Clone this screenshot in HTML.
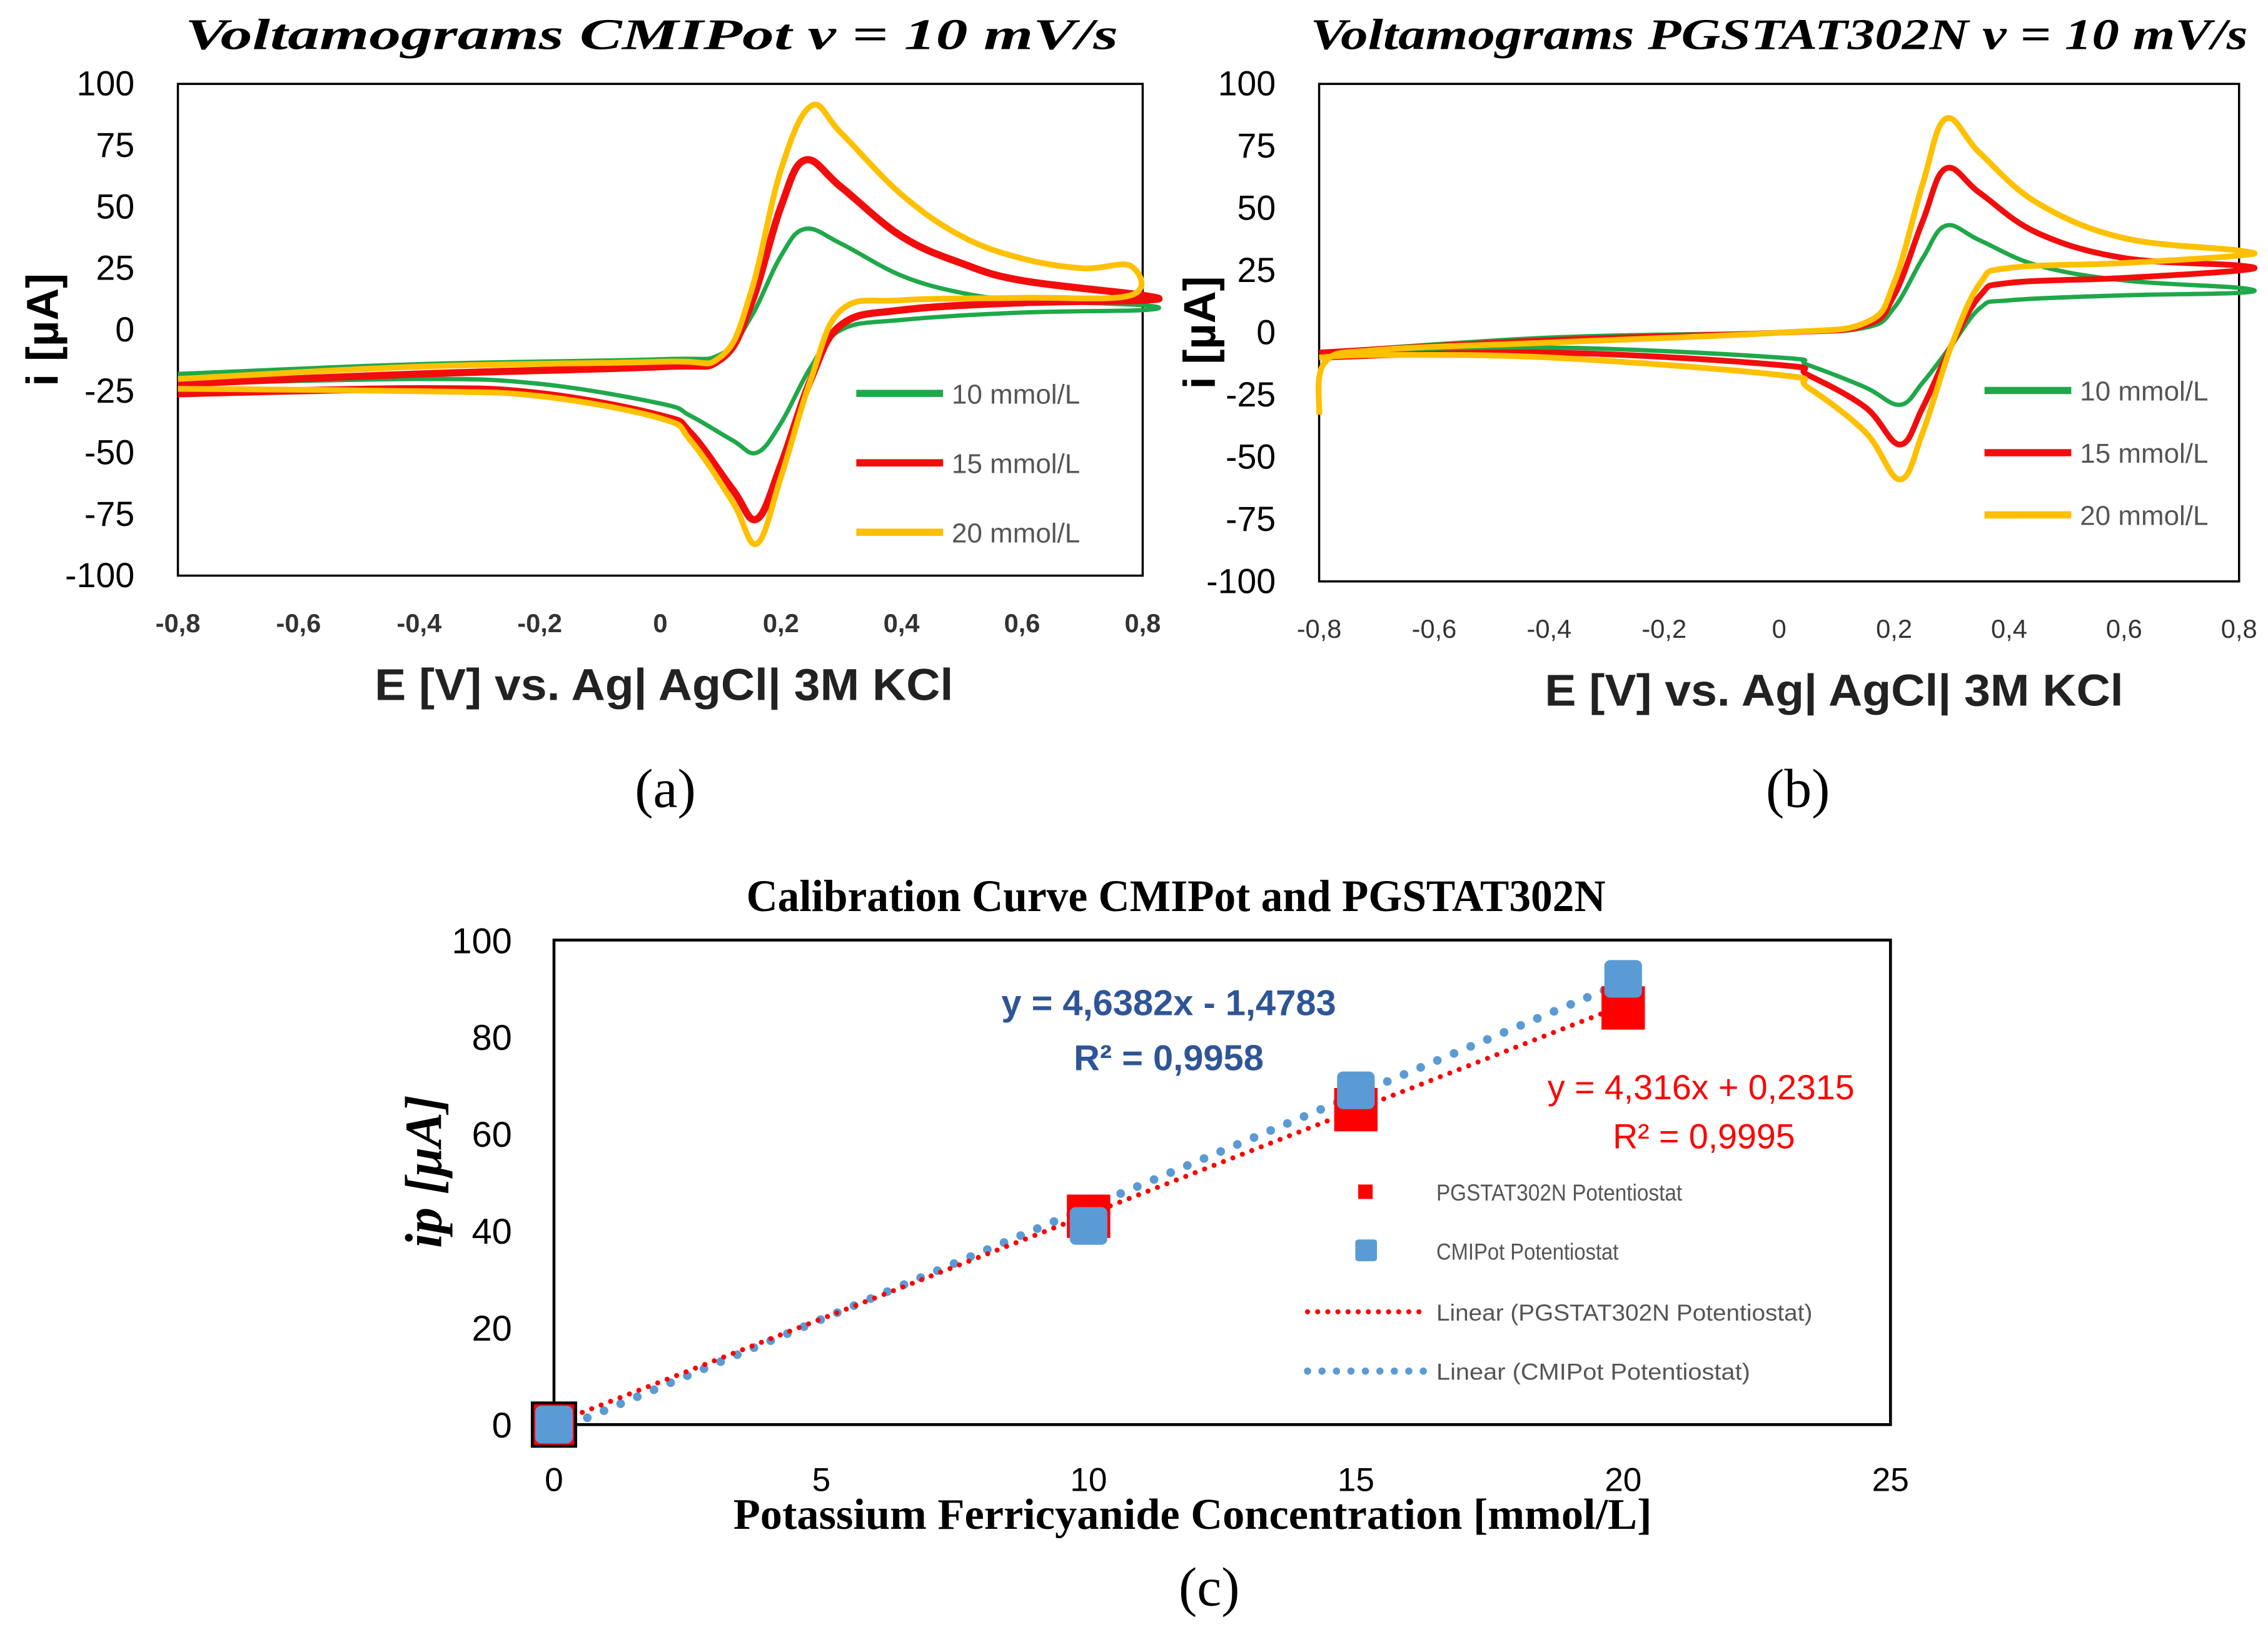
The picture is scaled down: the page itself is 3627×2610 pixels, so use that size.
<!DOCTYPE html>
<html><head><meta charset="utf-8"><style>
html,body{margin:0;padding:0;background:#fff}
svg{display:block}
text{font-family:"Liberation Sans",sans-serif}
.serif{font-family:"Liberation Serif",serif}
</style></head><body>
<svg id="s" width="3627" height="2610" viewBox="0 0 1568 1128.4" preserveAspectRatio="none" xmlns="http://www.w3.org/2000/svg">
<rect width="1568" height="1129" fill="#fff"/>
<g id="pa"></g>
<g id="pb"></g>
<g id="pc"></g>
</svg>
<script>
// ---- Panel A data ----
const cvColors = ["#1fa84a", "#f20d0d", "#ffc000"];
const cvLabels = ["10 mmol/L", "15 mmol/L", "20 mmol/L"];
const xTicks = [-0.8,-0.6,-0.4,-0.2,0,0.2,0.4,0.6,0.8];
const yTicks = [100,75,50,25,0,-25,-50,-75,-100];
const aE = [
 [-0.8,-0.4,0,0.1,0.15,0.2,0.24,0.3,0.4,0.5,0.6,0.8, 0.8,0.6,0.4,0.3,0.25,0.2,0.16,0.12,0.05,0,-0.2,-0.4,-0.8],
 [-0.8,-0.4,0,0.1,0.15,0.2,0.24,0.3,0.4,0.5,0.6,0.8, 0.8,0.6,0.4,0.3,0.25,0.2,0.16,0.12,0.05,0,-0.2,-0.4,-0.8],
 [-0.8,-0.4,0,0.1,0.15,0.2,0.25,0.3,0.4,0.5,0.6,0.7,0.78, 0.78,0.6,0.4,0.3,0.25,0.2,0.16,0.12,0.05,0,-0.2,-0.4,-0.8]
];
const aI = [
 [-18,-14,-12,-10,5,30,41,35,22,15,12,10, 8,7,4,0,-15,-38,-50,-45,-35,-30,-22,-20,-22],
 [-22,-18,-15,-12,10,50,69,58,38,27,20,14, 12,11,8,2,-20,-55,-77,-65,-42,-35,-26,-24,-26],
 [-20,-15,-13,-11,15,65,91,80,55,38,29,25,26, 14,13,12,8,-20,-60,-87,-70,-45,-36,-27,-25,-24]
];
// ---- Panel B data ----
const bE = [
 [-0.8,-0.4,0,0.15,0.2,0.25,0.29,0.35,0.45,0.6,0.8, 0.8,0.6,0.4,0.35,0.3,0.25,0.21,0.15,0.05,0,-0.4,-0.8],
 [-0.8,-0.4,0,0.15,0.2,0.25,0.29,0.35,0.45,0.6,0.8, 0.8,0.6,0.4,0.35,0.3,0.25,0.21,0.15,0.05,0,-0.4,-0.8],
 [-0.8,-0.79,-0.7,-0.4,0,0.15,0.2,0.25,0.29,0.35,0.45,0.6,0.8, 0.8,0.6,0.4,0.35,0.3,0.25,0.21,0.15,0.05,0,-0.4,-0.7,-0.8]
];
const bI = [
 [-8,-2,0,2,10,30,43,37,27,21,18, 16,15,13,10,-5,-20,-29,-22,-13,-10,-6,-8],
 [-8,-3,0,3,15,45,66,56,40,30,27, 25,22,20,15,-5,-30,-45,-30,-17,-13,-8,-10],
 [-33,-12,-7,-4,0,4,20,60,86,72,52,38,33, 31,28,26,20,-5,-40,-59,-40,-22,-17,-10,-9,-10]
];
// ---- Panel C data ----
const cConc = [0,10,15,20];
const cRed = [0,43,65,86];
const cBlue = [0,41,69,92];
const cXTicks = [0,5,10,15,20,25];
const cYTicks = [0,20,40,60,80,100];
const fitRed = [4.316, 0.2315];
const fitBlue = [4.6382, -1.4783];

const NS="http://www.w3.org/2000/svg";
function el(p,tag,attrs,txt){const e=document.createElementNS(NS,tag);for(const k in attrs)e.setAttribute(k,attrs[k]);if(txt!==undefined)e.textContent=txt;p.appendChild(e);return e;}
function smooth(pts){let d="M"+pts[0][0]+","+pts[0][1];for(let i=0;i<pts.length-1;i++){const p0=pts[Math.max(0,i-1)],p1=pts[i],p2=pts[i+1],p3=pts[Math.min(pts.length-1,i+2)];const t=0.18;d+=" C"+(p1[0]+(p2[0]-p0[0])*t)+","+(p1[1]+(p2[1]-p0[1])*t)+" "+(p2[0]-(p3[0]-p1[0])*t)+","+(p2[1]-(p3[1]-p1[1])*t)+" "+p2[0]+","+p2[1];}return d;}

function cvPanel(g,box,E,I,title,legX,legY,legDy,tickBold,lw){
  const sx=v=>box.x0+(v+0.8)/1.6*(box.x1-box.x0);
  const sy=v=>box.y0+(100-v)/200*(box.y1-box.y0);
  const t=el(g,"text",{x:box.tx0,y:34,"font-size":30,"font-weight":"bold","font-style":"italic",class:"serif",textLength:box.tw,lengthAdjust:"spacingAndGlyphs"},title);
  
  
  const r=el(g,"rect",{x:box.x0,y:box.y0,width:box.x1-box.x0,height:box.y1-box.y0,fill:"none",stroke:"#000","stroke-width":1.5});
  
  
  yTicks.forEach(v=>{const tt=el(g,"text",{x:box.x0-30,y:sy(v)+8,"font-size":24,"text-anchor":"end"},String(v));
    
    });
  xTicks.forEach(v=>{const tt=el(g,"text",{x:sx(v),y:box.y1+39,"font-size":18,"font-weight":tickBold?"bold":"normal","text-anchor":"middle",fill:"#333"},String(v).replace(".",","));
    
    });
  E.forEach((arr,k)=>{const pts=arr.map((e,i)=>[sx(e),sy(I[k][i])]);
    const p=el(g,"path",{d:smooth(pts),fill:"none",stroke:cvColors[k],"stroke-width":lw[k],"stroke-linejoin":"round"});
    
    });
  cvLabels.forEach((l,k)=>{const y=legY+k*legDy;
    const ln=el(g,"line",{x1:legX,x2:legX+60,y1:y,y2:y,stroke:cvColors[k],"stroke-width":5});
    
    
    const lt=el(g,"text",{x:legX+66,y:y+7,"font-size":19,fill:"#555"},l);
    
    });
  const xl=el(g,"text",{x:box.xl0,y:box.y1+86,"font-size":31,"font-weight":"bold",fill:"#222",textLength:400,lengthAdjust:"spacingAndGlyphs"},"E [V] vs. Ag| AgCl| 3M KCl");
  
  
  const yl=el(g,"text",{x:0,y:0,"font-size":31,"font-weight":"bold","text-anchor":"middle",transform:"translate("+box.ylx+","+(box.y0+box.y1)/2+") rotate(-90)"},"i [µA]");
  
  
  const pl=el(g,"text",{x:box.plx,y:558,"font-size":38,class:"serif","text-anchor":"middle"},box.pl);
  
  
}
cvPanel(document.getElementById("pa"),{x0:123,x1:790,y0:58,y1:398,tx0:128,tw:645,xl0:259,ylx:40,plx:460,pl:"(a)"},aE,aI,"Voltamograms CMIPot v = 10 mV/s",592,272,48,true,[3,5,4]);
cvPanel(document.getElementById("pb"),{x0:912,x1:1548,y0:58,y1:402,tx0:906,tw:648,xl0:1068,ylx:840,plx:1243,pl:"(b)"},bE,bI,"Voltamograms PGSTAT302N v = 10 mV/s",1372,270,43,false,[3,4,4]);

// Panel C
(function(){
  const g=document.getElementById("pc");
  const x0=383,x1=1307,y0=650,y1=985;
  const sx=v=>x0+v/25*(x1-x0), sy=v=>y1-v/100*(y1-y0);
  const t=el(g,"text",{x:516,y:630,"font-size":31,"font-weight":"bold",class:"serif",textLength:594,lengthAdjust:"spacingAndGlyphs"},"Calibration Curve CMIPot and PGSTAT302N");
  
  
  const r=el(g,"rect",{x:x0,y:y0,width:x1-x0,height:y1-y0,fill:"none",stroke:"#000","stroke-width":2});
  
  
  cYTicks.forEach(v=>{const tt=el(g,"text",{x:354,y:sy(v)+9,"font-size":25,"text-anchor":"end"},String(v));
    
    });
  cXTicks.forEach(v=>{const tt=el(g,"text",{x:sx(v),y:1031,"font-size":23,"text-anchor":"middle"},String(v));
    
    });
  const fl=el(g,"line",{x1:sx(0),y1:sy(fitBlue[1]),x2:sx(20),y2:sy(fitBlue[0]*20+fitBlue[1]),stroke:"#5b9bd5","stroke-width":6,"stroke-dasharray":"0 12.5","stroke-linecap":"round"});
  
  
  const fr=el(g,"line",{x1:sx(0),y1:sy(fitRed[1]),x2:sx(20),y2:sy(fitRed[0]*20+fitRed[1]),stroke:"#ff0000","stroke-width":3.5,"stroke-dasharray":"0 7","stroke-linecap":"round"});
  
  
  cConc.forEach((c,i)=>{const m=el(g,"rect",{x:sx(c)-15,y:sy(cRed[i])-15,width:30,height:30,fill:"#ff0000",stroke:i===0?"#000":"none","stroke-width":2});
    
    });
  cConc.forEach((c,i)=>{const m=el(g,"rect",{x:sx(c)-13,y:sy(cBlue[i])-13,width:26,height:26,rx:4,fill:"#5b9bd5"});
    
    });
  const e1=el(g,"text",{x:808,y:702,"font-size":25,"font-weight":"bold",fill:"#2f5597","text-anchor":"middle"},"y = 4,6382x - 1,4783");
  
  
  const e2=el(g,"text",{x:808,y:740,"font-size":25,"font-weight":"bold",fill:"#2f5597","text-anchor":"middle"},"R² = 0,9958");
  
  
  const e3=el(g,"text",{x:1176,y:760,"font-size":24,fill:"#ff0000","text-anchor":"middle"},"y = 4,316x + 0,2315");
  
  
  const e4=el(g,"text",{x:1178,y:794,"font-size":24,fill:"#ff0000","text-anchor":"middle"},"R² = 0,9995");
  
  
  const leg=[["PGSTAT302N Potentiostat",824],["CMIPot Potentiostat",865],["Linear (PGSTAT302N Potentiostat)",907],["Linear (CMIPot Potentiostat)",948]];
  leg.forEach((l,k)=>{
    if(k===0){const s=el(g,"rect",{x:939,y:l[1]-5,width:10,height:10,fill:"#ff0000"});}
    if(k===1){const s=el(g,"rect",{x:937,y:l[1]-8,width:15,height:15,rx:2,fill:"#5b9bd5"});}
    if(k===2){const s=el(g,"line",{x1:904,x2:986,y1:l[1],y2:l[1],stroke:"#ff0000","stroke-width":3.5,"stroke-dasharray":"0 7","stroke-linecap":"round"});}
    if(k===3){const s=el(g,"line",{x1:904,x2:986,y1:l[1],y2:l[1],stroke:"#5b9bd5","stroke-width":5,"stroke-dasharray":"0 10","stroke-linecap":"round"});}
    const tt=el(g,"text",{x:993,y:l[1]+6,"font-size":16,fill:"#555",textLength:k===0?170:k===1?126:k===2?260:217,lengthAdjust:"spacingAndGlyphs"},l[0]);
    
    
  });
  const xl=el(g,"text",{x:507,y:1057,"font-size":30,"font-weight":"bold",class:"serif",textLength:635,lengthAdjust:"spacingAndGlyphs"},"Potassium Ferricyanide Concentration [mmol/L]");
  
  
  const yl=el(g,"text",{x:0,y:0,"font-size":36,"font-weight":"bold","font-style":"italic",class:"serif","text-anchor":"middle",transform:"translate(305,810) rotate(-90)"},"ip [µA]");
  
  
  const pl=el(g,"text",{x:836,y:1110,"font-size":38,class:"serif","text-anchor":"middle"},"(c)");
  
  
})();
</script>
</body></html>
